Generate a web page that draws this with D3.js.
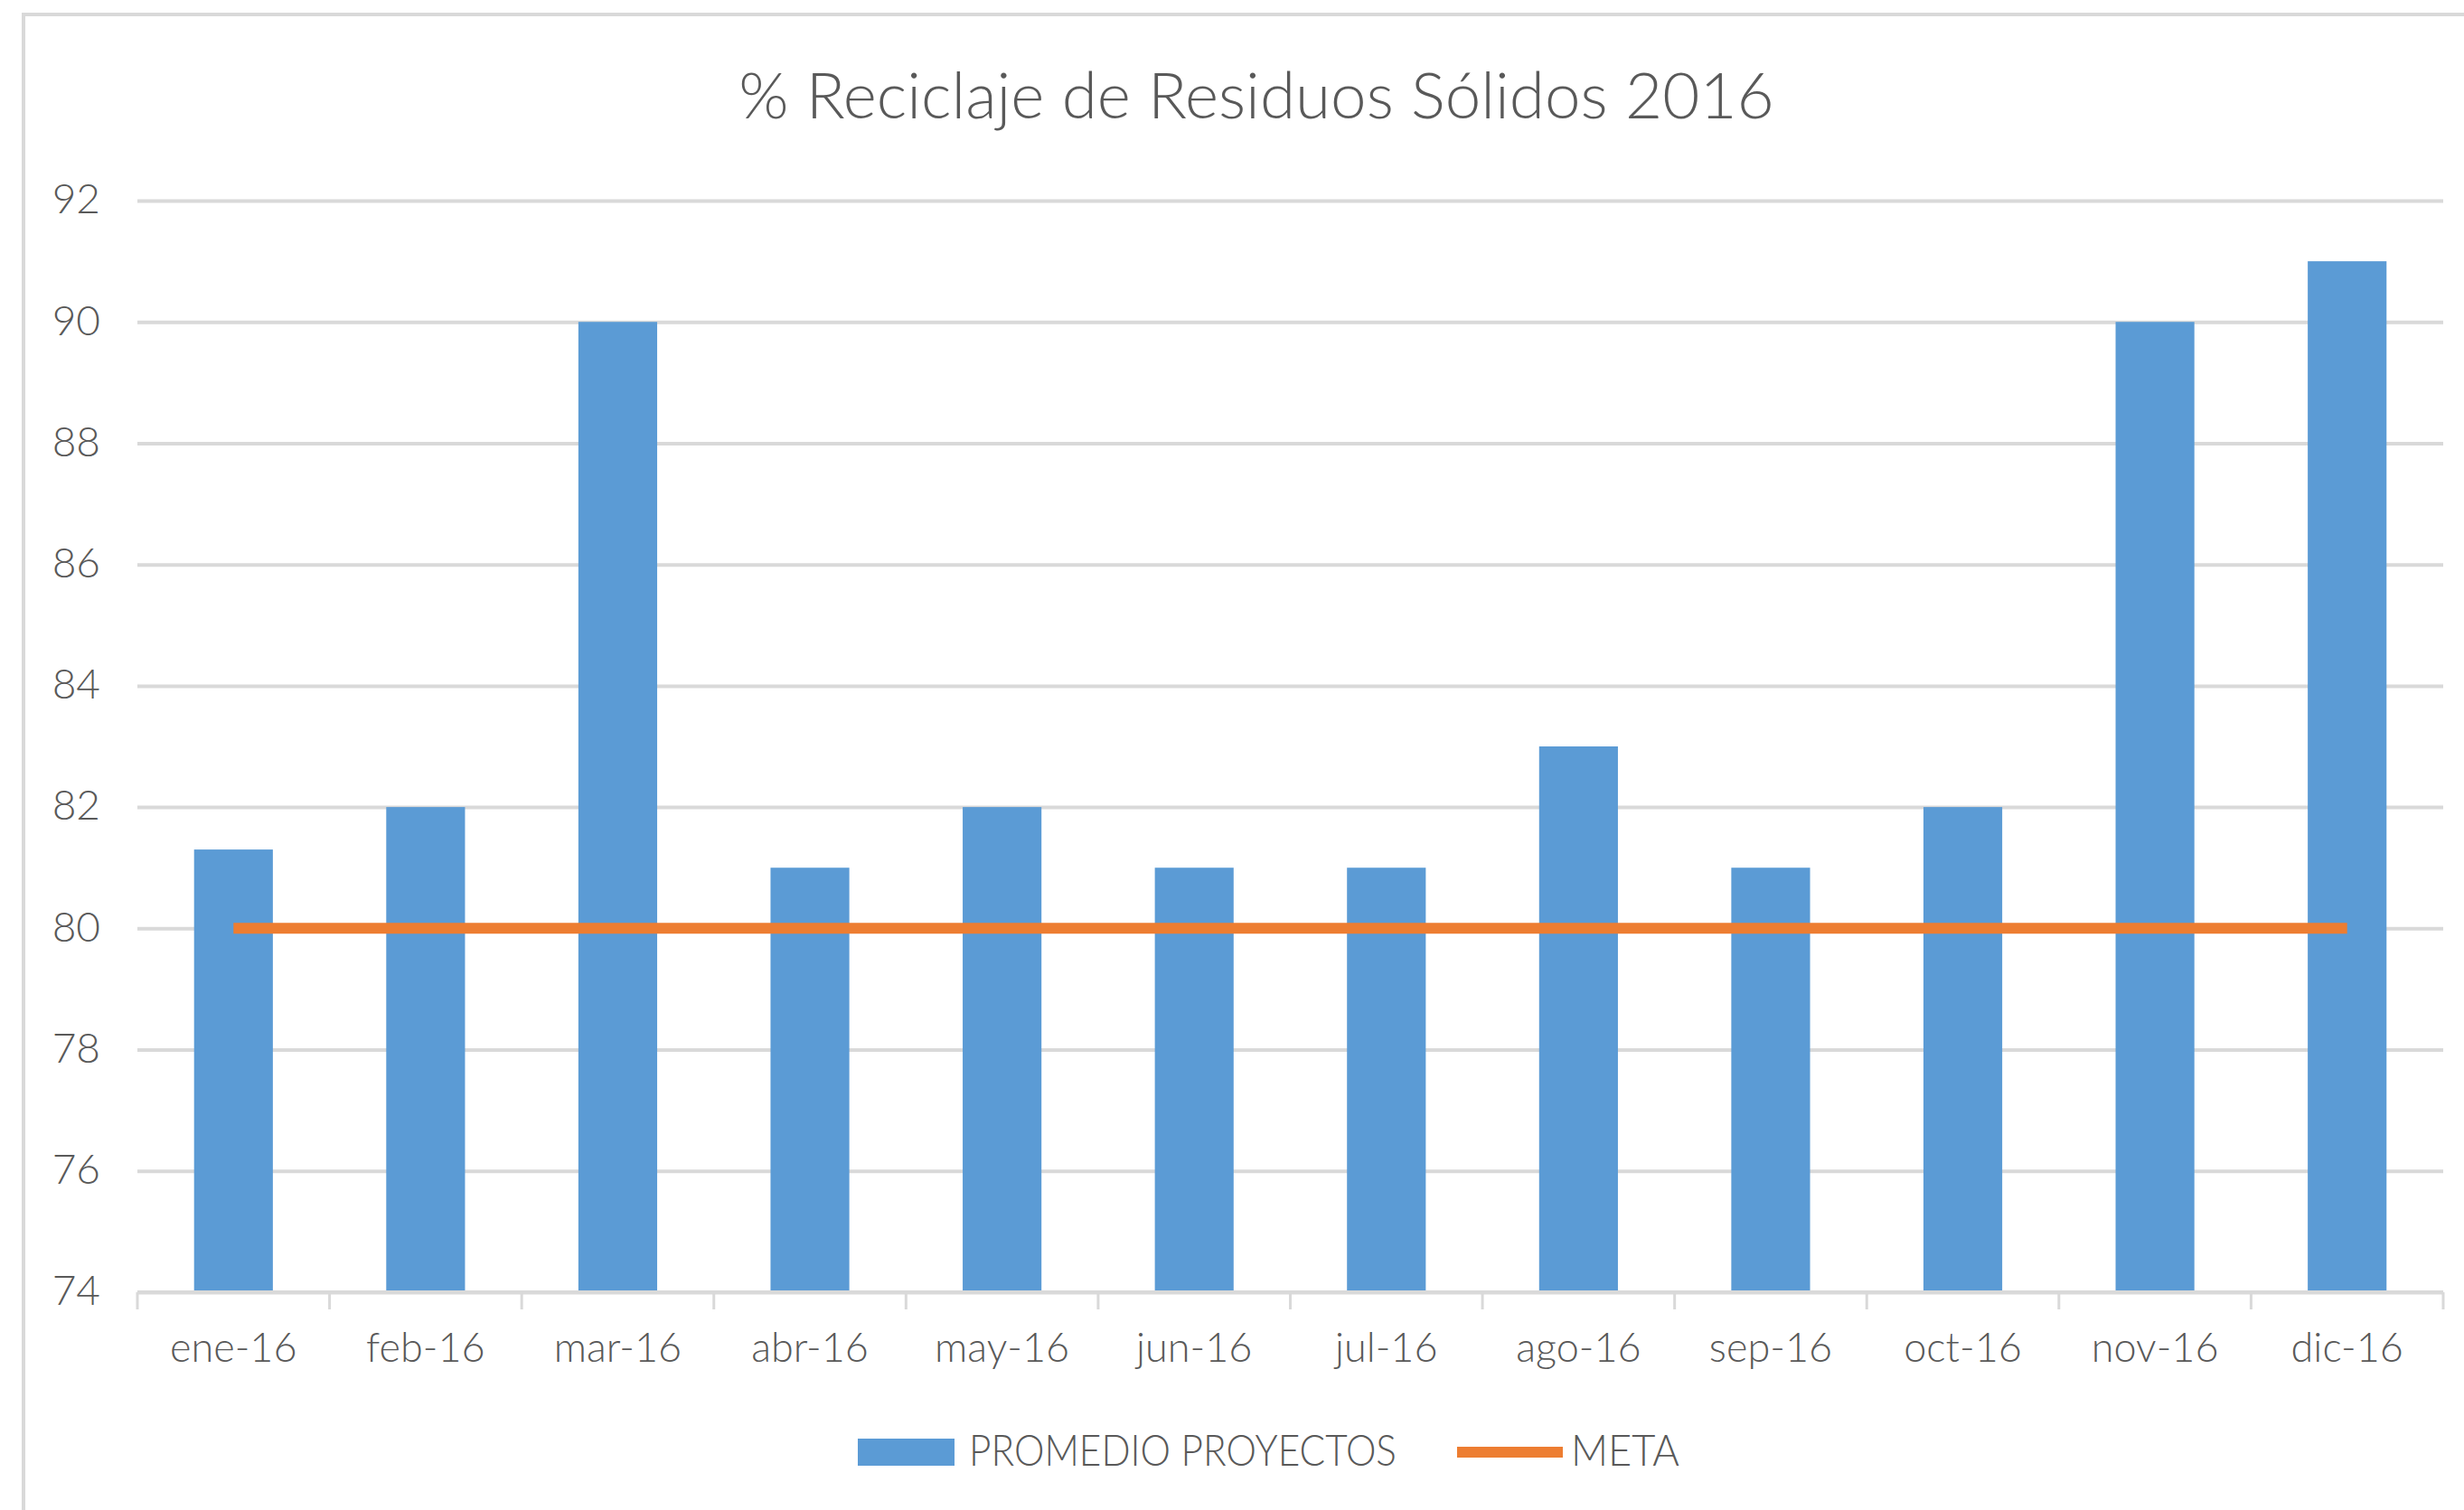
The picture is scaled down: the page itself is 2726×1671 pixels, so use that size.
<!DOCTYPE html>
<html>
<head>
<meta charset="utf-8">
<script src="https://cdn.jsdelivr.net/npm/d3@7"></script>
<style>
  body { margin: 0; background: #fff; }
  svg text { font-family: Lato, "Open Sans", sans-serif; fill: #595959; font-weight: 300; }
  .grid line { stroke: #d9d9d9; stroke-width: 4; }
  .grid .domain { display: none; }
</style>
</head>
<body>
<div id="chart"></div>
<script>
// data
const months = ["ene-16", "feb-16", "mar-16", "abr-16", "may-16", "jun-16",
  "jul-16", "ago-16", "sep-16", "oct-16", "nov-16", "dic-16"];
const promedio = [81.3, 82, 90, 81, 82, 81, 81, 83, 81, 82, 90, 91];
const meta = [80, 80, 80, 80, 80, 80, 80, 80, 80, 80, 80, 80];
const yTicks = [74, 76, 78, 80, 82, 84, 86, 88, 90, 92];

const W = 2726, H = 1671;
const margin = { top: 222, right: 23, bottom: 241, left: 152 };

const svg = d3.select("#chart").append("svg")
  .attr("width", W).attr("height", H);

svg.append("rect").attr("width", W).attr("height", H).attr("fill", "#fff");

// outer chart frame (runs off the right/bottom edge like the source)
svg.append("rect")
  .attr("x", 26).attr("y", 16)
  .attr("width", W + 50).attr("height", H + 50)
  .attr("fill", "none").attr("stroke", "#d9d9d9").attr("stroke-width", 4);

const x = d3.scaleBand()
  .domain(months)
  .range([margin.left, W - margin.right])
  .paddingInner(0.59)
  .paddingOuter(0.295);

const y = d3.scaleLinear()
  .domain([74, 92])
  .range([H - margin.bottom, margin.top]);

// gridlines + y labels
const yAxis = svg.append("g")
  .attr("class", "grid")
  .attr("transform", `translate(${margin.left},0)`)
  .call(d3.axisLeft(y).tickValues(yTicks)
    .tickSize(-(W - margin.right - margin.left))
    .tickPadding(41)
    .tickFormat(d3.format("d")));
yAxis.selectAll("text")
  .attr("font-size", 46)
  .attr("dy", "0.3em")
  .style("font-family", "Lato, sans-serif")
  .attr("fill", "#595959");

// bars
svg.append("g").selectAll("rect")
  .data(promedio)
  .join("rect")
  .attr("x", (d, i) => x(months[i]))
  .attr("y", (d) => y(d))
  .attr("width", x.bandwidth())
  .attr("height", (d) => y(74) - y(d))
  .attr("fill", "#5b9bd5");

// meta line
const line = d3.line()
  .x((d, i) => x(months[i]) + x.bandwidth() / 2)
  .y((d) => y(d));
svg.append("path")
  .datum(meta)
  .attr("d", line)
  .attr("fill", "none")
  .attr("stroke", "#ed7d31")
  .attr("stroke-width", 12);

// x axis: line, boundary ticks, labels
const base = y(74);
const step = x.step();
const x0 = margin.left;
svg.append("line")
  .attr("x1", x0).attr("x2", W - margin.right)
  .attr("y1", base).attr("y2", base)
  .attr("stroke", "#d9d9d9").attr("stroke-width", 4);
svg.append("g").selectAll("line")
  .data(d3.range(months.length + 1))
  .join("line")
  .attr("x1", (i) => x0 + i * step).attr("x2", (i) => x0 + i * step)
  .attr("y1", base).attr("y2", base + 19)
  .attr("stroke", "#d9d9d9").attr("stroke-width", 3);

const xAxis = svg.append("g")
  .attr("transform", `translate(0,${base})`)
  .call(d3.axisBottom(x).tickSize(0).tickPadding(0));
xAxis.select(".domain").remove();
xAxis.selectAll("text")
  .attr("y", 77).attr("dy", null)
  .attr("font-size", 45)
  .style("font-family", "Lato, sans-serif")
  .attr("fill", "#595959");

// title
svg.append("text")
  .attr("x", 1390).attr("y", 131)
  .attr("text-anchor", "middle")
  .attr("font-size", 71)
  .text("% Reciclaje de Residuos Sólidos 2016");

// legend
const legend = svg.append("g").attr("transform", "translate(949,1622)");
legend.append("rect").attr("x", 0).attr("y", -30).attr("width", 107).attr("height", 30)
  .attr("fill", "#5b9bd5");
legend.append("text").attr("x", 123).attr("y", 0).attr("font-size", 48)
  .attr("textLength", 473).attr("lengthAdjust", "spacingAndGlyphs")
  .text("PROMEDIO PROYECTOS");
legend.append("line").attr("x1", 663).attr("x2", 780).attr("y1", -15).attr("y2", -15)
  .attr("stroke", "#ed7d31").attr("stroke-width", 12);
legend.append("text").attr("x", 789).attr("y", 0).attr("font-size", 48)
  .attr("textLength", 120).attr("lengthAdjust", "spacingAndGlyphs")
  .text("META");
</script>
</body>
</html>
